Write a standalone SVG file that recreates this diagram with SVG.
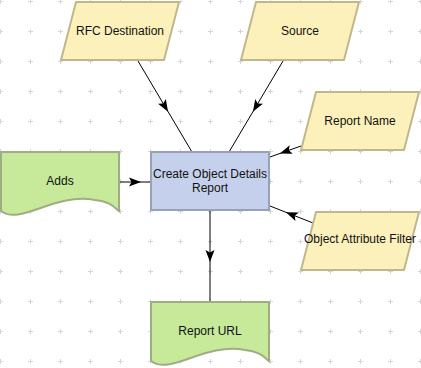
<svg xmlns="http://www.w3.org/2000/svg" width="421" height="368" viewBox="0 0 421 368">
<style>
.io{fill:#FCF1BA;stroke:#C2B78C;stroke-width:2}
.proc{fill:#C5D1EC;stroke:#97A1B7;stroke-width:2}
.doc{fill:#C6E99A;stroke:#9FAD84;stroke-width:2}
.t{font-family:"Liberation Sans",Arial,sans-serif;font-size:12px;fill:#111;text-anchor:middle;dominant-baseline:central}
.c{fill:none;stroke:#000;stroke-width:1;marker-mid:url(#arr)}
</style>
<defs>
<pattern id="grid" x="-15" y="-14" width="30" height="30" patternUnits="userSpaceOnUse">
<path d="M13,15.5H18M15.5,13V18" stroke="#D6D6D6" stroke-width="1" fill="none"/>
</pattern>
<marker id="arr" viewBox="0 0 12 10" refX="6" refY="5" markerWidth="12" markerHeight="10" markerUnits="userSpaceOnUse" orient="auto">
<path d="M0,0.5L12,5L0,9.5L2.5,5z" fill="#000"/>
</marker>
</defs>
<rect width="421" height="368" fill="#fff"/>
<rect width="421" height="368" fill="url(#grid)"/>
<g id="connectors">
<path class="c" d="M138,61L165,106.5L192,152"/>
<path class="c" d="M283,61L256,106.5L229,152"/>
<path class="c" d="M301,146L285.5,151.5L270,157"/>
<path class="c" d="M313,223L291.5,214.5L270,206"/>
<path class="c" d="M119,182L135,182L151,182"/>
<path class="c" d="M210,210L210,256L210,302"/>
</g>
<g id="rfc-destination">
<path class="io" d="M76,2H179L164,60H61z"/>
<text class="t" x="120" y="31">RFC Destination</text>
</g>
<g id="source">
<path class="io" d="M256,2H359L344,60H241z"/>
<text class="t" x="300" y="31">Source</text>
</g>
<g id="report-name">
<path class="io" d="M316,92H419L404,150H301z"/>
<text class="t" x="360" y="121">Report Name</text>
</g>
<g id="object-attribute-filter">
<path class="io" d="M316,212H419L404,270H301z"/>
<text class="t" x="360" y="239">Object Attribute Filter</text>
</g>
<g id="create-object-details-report">
<rect class="proc" x="151" y="152" width="118" height="58"/>
<text class="t" x="210" y="174">Create Object Details</text>
<text class="t" x="210" y="188">Report</text>
</g>
<g id="adds">
<path class="doc" d="M1,152H119V211C115,208 110,201 95,200C55,192 20,226 1,211z"/>
<text class="t" x="60" y="181">Adds</text>
</g>
<g id="report-url">
<path class="doc" d="M151,302H269V361C265,358 260,351 245,350C205,342 170,376 151,361z"/>
<text class="t" x="210" y="331">Report URL</text>
</g>
</svg>
